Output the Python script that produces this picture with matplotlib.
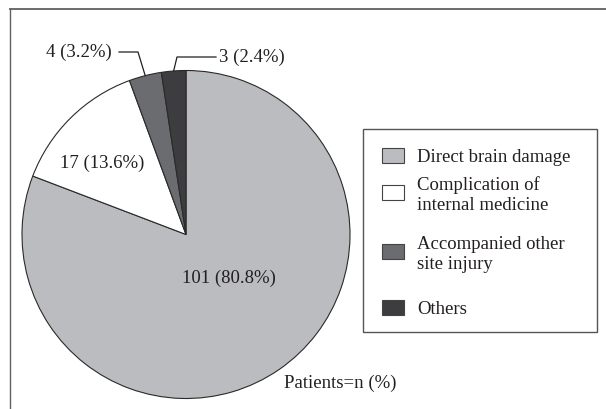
import numpy as np
import matplotlib
matplotlib.use("Agg")
import matplotlib.pyplot as plt
from matplotlib.patches import Rectangle
from matplotlib.lines import Line2D

# data
categories = ["Direct brain damage", "Complication of\ninternal medicine",
              "Accompanied other\nsite injury", "Others"]
counts = [101, 17, 4, 3]
percents = [80.8, 13.6, 3.2, 2.4]
colors = ["#bbbcc0", "#ffffff", "#6b6c70", "#3d3d3f"]

plt.rcParams["font.family"] = ["Liberation Serif", "DejaVu Serif"]
txt_color = "#231f20"
fs = 13.5

W, H = 606, 409
fig = plt.figure(figsize=(W / 100, H / 100), dpi=100)
ax = fig.add_axes([0, 0, 1, 1])


def py(y):
    # image y (from top) -> data y
    return H - y


cx, cy, r = 186, 234.5, 164
wedges, _ = ax.pie(counts, colors=colors, startangle=90, counterclock=False,
                   center=(cx, py(cy)), radius=r, frame=True,
                   wedgeprops=dict(edgecolor="#2a2a2a", linewidth=0.8))
ax.set_xlim(0, W)
ax.set_ylim(0, H)
ax.set_aspect("auto")
ax.axis("off")

labels = ["%d (%.1f%%)" % (c, p) for c, p in zip(counts, percents)]

# inside labels
ax.text(229, py(278), labels[0], fontsize=fs, color=txt_color, ha="center", va="center")
ax.text(102, py(163), labels[1], fontsize=fs, color=txt_color, ha="center", va="center")


def rim(w):
    a = np.deg2rad((w.theta1 + w.theta2) / 2)
    return w.center[0] + w.r * np.cos(a), w.center[1] + w.r * np.sin(a)


# leader lines for small slices
x0, y0 = rim(wedges[2])
ax.plot([x0, 138, 119], [y0, py(52), py(52)], color="#231f20", lw=0.9, clip_on=False)
ax.text(112, py(52), labels[2], fontsize=fs, color=txt_color, ha="right", va="center")

x0, y0 = rim(wedges[3])
ax.plot([x0, 177, 216], [y0, py(57), py(57)], color="#231f20", lw=0.9, clip_on=False)
ax.text(219, py(57), labels[3], fontsize=fs, color=txt_color, ha="left", va="center")

# legend box
ax.add_patch(Rectangle((363, py(332)), 597 - 363, 332 - 129, facecolor="white",
                       edgecolor="#555555", linewidth=1.0))
row_y = [155, 192, 251, 307]
for lab, col, yy in zip(categories, colors, row_y):
    ax.add_patch(Rectangle((382, py(yy + 7.5)), 22, 15, facecolor=col,
                           edgecolor="#444444", linewidth=0.8))
    ax.text(417, py(yy), lab, fontsize=fs, color=txt_color, ha="left",
            va="center_baseline", linespacing=1.22)

ax.text(340, py(383), "Patients=n (%)", fontsize=fs, color=txt_color,
        ha="center", va="center")

# outer frame (top and left)
fig.add_artist(Line2D([10 / W, 1], [1 - 9 / H, 1 - 9 / H], color="#606060", lw=1.3))
fig.add_artist(Line2D([10 / W, 10 / W], [0, 1 - 9 / H], color="#606060", lw=1.0))

fig.savefig("out.png", dpi=100)
